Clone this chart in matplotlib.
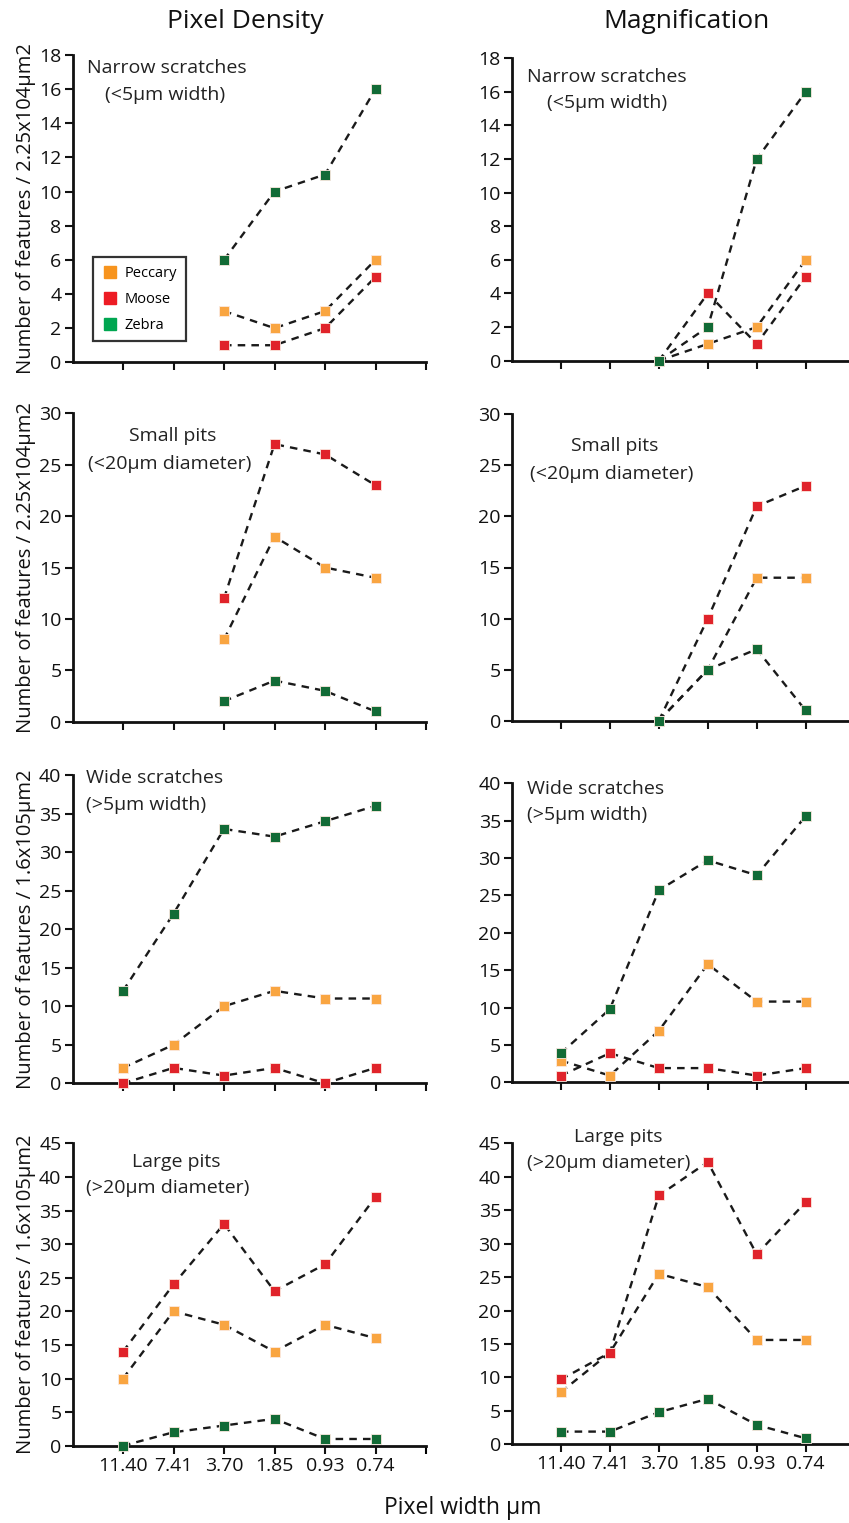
import numpy as np
import matplotlib
matplotlib.use("Agg")
import matplotlib.pyplot as plt
from matplotlib.lines import Line2D

plt.rcParams['font.family'] = ['Open Sans', 'DejaVu Sans']

# ---------------- data ----------------
pixel_widths = ["11.40", "7.41", "3.70", "1.85", "0.93", "0.74"]
species = ["Peccary", "Moose", "Zebra"]
nan = np.nan

# Pixel Density column
pd_narrow_peccary = [nan, nan, 3, 2, 3, 6]
pd_narrow_moose   = [nan, nan, 1, 1, 2, 5]
pd_narrow_zebra   = [nan, nan, 6, 10, 11, 16]

pd_small_peccary = [nan, nan, 8, 18, 15, 14]
pd_small_moose   = [nan, nan, 12, 27, 26, 23]
pd_small_zebra   = [nan, nan, 2, 4, 3, 1]

pd_wide_peccary = [2, 5, 10, 12, 11, 11]
pd_wide_moose   = [0, 2, 1, 2, 0, 2]
pd_wide_zebra   = [12, 22, 33, 32, 34, 36]

pd_large_peccary = [10, 20, 18, 14, 18, 16]
pd_large_moose   = [14, 24, 33, 23, 27, 37]
pd_large_zebra   = [0, 2, 3, 4, 1, 1]

# Magnification column
mg_narrow_peccary = [nan, nan, 0, 1, 2, 6]
mg_narrow_moose   = [nan, nan, 0, 4, 1, 5]
mg_narrow_zebra   = [nan, nan, 0, 2, 12, 16]

mg_small_peccary = [nan, nan, 0, 5, 14, 14]
mg_small_moose   = [nan, nan, 0, 10, 21, 23]
mg_small_zebra   = [nan, nan, 0, 5, 7, 1]

mg_wide_peccary = [2.9, 0.9, 6.9, 15.8, 10.8, 10.8]
mg_wide_moose   = [0.9, 3.9, 1.9, 1.9, 0.9, 1.9]
mg_wide_zebra   = [3.9, 9.8, 25.7, 29.7, 27.7, 35.6]

mg_large_peccary = [7.8, 13.7, 25.5, 23.5, 15.6, 15.6]
mg_large_moose   = [9.7, 13.7, 37.2, 42.2, 28.4, 36.2]
mg_large_zebra   = [1.9, 1.9, 4.8, 6.8, 2.9, 0.9]

ymax = [18, 30, 40, 45]
ystep = [2, 5, 5, 5]
ylabels = ["Number of features / 2.25x104μm2", "Number of features / 2.25x104μm2",
           "Number of features / 1.6x105μm2", "Number of features / 1.6x105μm2"]

# ---------------- styling ----------------
W, H = 849, 1523
col_marker = {"Peccary": "#F9A541", "Moose": "#E0232A", "Zebra": "#126B36"}
col_legend = {"Peccary": "#F7941E", "Moose": "#ED1C24", "Zebra": "#00A651"}

fig = plt.figure(figsize=(W / 100, H / 100), dpi=100)

def fr(x0, y_bottom, x1, y_top):
    return [x0 / W, 1 - y_bottom / H, (x1 - x0) / W, (y_bottom - y_top) / H]

rects_left = [fr(72.5, 362.3, 426, 55), fr(72.5, 721.7, 426, 413.3),
              fr(72.5, 1083.3, 426, 775), fr(72.5, 1445.7, 426, 1143.3)]
rects_right = [fr(512, 360.7, 854.6, 58.3), fr(512, 720.7, 854.6, 414.3),
               fr(512, 1082.3, 854.6, 783.3), fr(512, 1444.3, 854.6, 1143.3)]

pd_data = [(pd_narrow_peccary, pd_narrow_moose, pd_narrow_zebra),
           (pd_small_peccary, pd_small_moose, pd_small_zebra),
           (pd_wide_peccary, pd_wide_moose, pd_wide_zebra),
           (pd_large_peccary, pd_large_moose, pd_large_zebra)]
mg_data = [(mg_narrow_peccary, mg_narrow_moose, mg_narrow_zebra),
           (mg_small_peccary, mg_small_moose, mg_small_zebra),
           (mg_wide_peccary, mg_wide_moose, mg_wide_zebra),
           (mg_large_peccary, mg_large_moose, mg_large_zebra)]

x = np.arange(1, len(pixel_widths) + 1)

def draw(ax, data, row, is_left):
    for sp, vals in zip(species, data):
        v = np.array(vals, dtype=float)
        m = ~np.isnan(v)
        ax.plot(x[m], v[m], color="#1a1a1a", lw=1.7, ls=(0, (3.2, 2.6)),
                zorder=2, clip_on=False)
    for sp, vals in zip(species, data):
        v = np.array(vals, dtype=float)
        m = ~np.isnan(v)
        ax.plot(x[m], v[m], ls="none", marker="s", ms=7.2, mfc=col_marker[sp],
                mec="#fbe9e0", mew=0.6, zorder=3, clip_on=False)
    ax.set_xlim(0, 7)
    ax.set_ylim(0, ymax[row])
    ax.set_yticks(np.arange(0, ymax[row] + 0.1, ystep[row]))
    ax.set_xticks(np.arange(1, 8))
    if row == 3:
        ax.set_xticks(x)
        ax.set_xticklabels(pixel_widths, fontsize=13.5)
        ax.set_xticks([7], minor=True)
        ax.tick_params(axis='x', which='minor', direction='out', length=6, width=1.5)
    else:
        ax.set_xticklabels([])
    ax.tick_params(axis='both', which='major', direction='out', length=6, width=1.5,
                   labelsize=14, pad=2, colors='#111111')
    for s in ("top", "right"):
        ax.spines[s].set_visible(False)
    for s in ("left", "bottom"):
        ax.spines[s].set_linewidth(2)
        ax.spines[s].set_color("#111111")
    ax.patch.set_alpha(0)
    if is_left:
        ax.set_ylabel(ylabels[row], fontsize=14.5, labelpad=2, color='#111111')

for row in range(4):
    axl = fig.add_axes(rects_left[row])
    draw(axl, pd_data[row], row, True)
    axr = fig.add_axes(rects_right[row])
    draw(axr, mg_data[row], row, False)
    if row == 0:
        handles = [Line2D([], [], ls="none", marker="s", ms=8, mfc=col_legend[s],
                          mec=col_legend[s]) for s in species]
        leg = axl.legend(handles, species, loc="upper left",
                         bbox_to_anchor=((92.5 - 72.5) / (426 - 72.5), (362.3 - 257) / (362.3 - 55)),
                         fontsize=10.5, frameon=True, fancybox=False, borderpad=0.6,
                         handletextpad=0.4, labelspacing=0.75, handlelength=1.2,
                         borderaxespad=0)
        leg.get_frame().set_edgecolor("black")
        leg.get_frame().set_linewidth(1.6)

def ftext(px, py, s, ha="center", size=14):
    fig.text(px / W, 1 - py / H, s, ha=ha, va="center", fontsize=size, color="#222222")

# panel annotations
ftext(167, 68, "Narrow scratches"); ftext(165, 95, "(<5μm width)")
ftext(607, 77, "Narrow scratches"); ftext(607, 103, "(<5μm width)")
ftext(173, 436, "Small pits"); ftext(170, 464, "(<20μm diameter)")
ftext(615, 446, "Small pits"); ftext(612, 474, "(<20μm diameter)")
ftext(86, 778, "Wide scratches", ha="left"); ftext(86, 805, "(>5μm width)", ha="left")
ftext(527, 789, "Wide scratches", ha="left"); ftext(527, 815, "(>5μm width)", ha="left")
ftext(176, 1162, "Large pits"); ftext(168, 1188, "(>20μm diameter)")
ftext(618, 1137, "Large pits"); ftext(609, 1163, "(>20μm diameter)")

# column titles and x label
fig.text(245.5 / W, 1 - 21 / H, "Pixel Density", ha="center", va="center", fontsize=19, color="#111111")
fig.text(687 / W, 1 - 21 / H, "Magnification", ha="center", va="center", fontsize=19, color="#111111")
fig.text(463 / W, 1 - 1508 / H, "Pixel width μm", ha="center", va="center", fontsize=16.5, color="#111111")

fig.savefig("out.png", dpi=100, facecolor="white")
